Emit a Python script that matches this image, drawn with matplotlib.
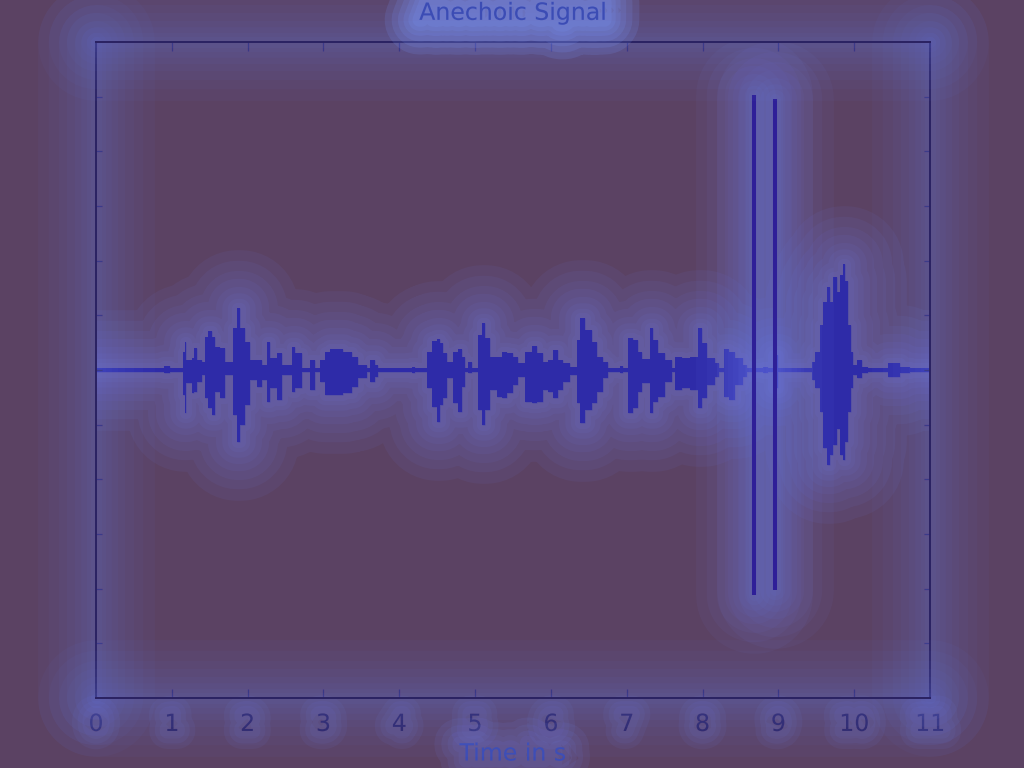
import matplotlib
matplotlib.use('Agg')
import matplotlib.pyplot as plt
import matplotlib.patheffects as pe

# envelope of the anechoic speech signal (step segments)
times = [0.00, 0.90, 0.98, 1.147, 1.174, 1.187, 1.266, 1.293, 1.332, 1.398,
         1.438, 1.477, 1.530, 1.570, 1.635, 1.701, 1.807, 1.860, 1.899, 1.965,
         2.031, 2.123, 2.189, 2.255, 2.295, 2.387, 2.453, 2.585, 2.625, 2.717,
         2.822, 2.888, 2.954, 3.020, 3.086, 3.258, 3.376, 3.456, 3.574, 3.614,
         3.680, 3.719, 4.17, 4.21, 4.366, 4.432, 4.497, 4.537, 4.577, 4.629,
         4.709, 4.775, 4.827, 4.867, 4.906, 4.959, 5.038, 5.091, 5.131, 5.197,
         5.289, 5.355, 5.421, 5.500, 5.566, 5.658, 5.751, 5.816, 5.896, 5.961,
         6.027, 6.093, 6.159, 6.252, 6.344, 6.384, 6.449, 6.542, 6.608, 6.687,
         6.753, 6.911, 6.95, 7.017, 7.083, 7.149, 7.201, 7.307, 7.346, 7.412,
         7.505, 7.597, 7.637, 7.729, 7.834, 7.940, 7.993, 8.059, 8.164, 8.217,
         8.283, 8.349, 8.428, 8.534, 8.586, 8.80, 8.86, 8.93, 8.99, 9.443,
         9.483, 9.549, 9.589, 9.641, 9.681, 9.720, 9.773, 9.813, 9.852, 9.879,
         9.918, 9.958, 9.984, 10.037, 10.103, 10.182, 10.446, 10.604, 10.736, 11.0]
upper = [0.008, 0.015, 0.008, 0.067, 0.104, 0.037, 0.043, 0.079, 0.037, 0.031,
         0.122, 0.143, 0.122, 0.085, 0.079, 0.031, 0.153, 0.226, 0.153, 0.104,
         0.037, 0.037, 0.018, 0.104, 0.043, 0.061, 0.018, 0.085, 0.061, 0.008,
         0.037, 0.008, 0.037, 0.067, 0.077, 0.067, 0.049, 0.018, 0.008, 0.037,
         0.018, 0.008, 0.012, 0.008, 0.067, 0.107, 0.112, 0.098, 0.061, 0.031,
         0.067, 0.076, 0.049, 0.008, 0.031, 0.008, 0.128, 0.171, 0.116, 0.049,
         0.049, 0.067, 0.061, 0.049, 0.024, 0.067, 0.088, 0.061, 0.031, 0.037,
         0.073, 0.037, 0.024, 0.012, 0.110, 0.189, 0.147, 0.104, 0.049, 0.031,
         0.008, 0.014, 0.008, 0.116, 0.110, 0.067, 0.039, 0.153, 0.110, 0.061,
         0.037, 0.008, 0.049, 0.043, 0.049, 0.153, 0.098, 0.043, 0.024, 0.008,
         0.076, 0.067, 0.043, 0.018, 0.008, 0.012, 0.008, 0.055, 0.008, 0.031,
         0.067, 0.165, 0.250, 0.305, 0.250, 0.342, 0.287, 0.348, 0.387, 0.324,
         0.165, 0.067, 0.018, 0.037, 0.012, 0.008, 0.024, 0.012, 0.008, 0.008]
lower = [-0.008, -0.012, -0.008, -0.092, -0.159, -0.049, -0.085, -0.079, -0.043, -0.018,
         -0.104, -0.140, -0.165, -0.079, -0.104, -0.018, -0.165, -0.263, -0.201, -0.128,
         -0.037, -0.061, -0.037, -0.116, -0.067, -0.110, -0.018, -0.079, -0.067, -0.008,
         -0.073, -0.008, -0.043, -0.092, -0.092, -0.085, -0.061, -0.031, -0.008, -0.043,
         -0.024, -0.008, -0.012, -0.008, -0.067, -0.134, -0.189, -0.128, -0.104, -0.031,
         -0.122, -0.153, -0.061, -0.008, -0.012, -0.008, -0.147, -0.201, -0.147, -0.073,
         -0.098, -0.104, -0.085, -0.055, -0.024, -0.116, -0.122, -0.116, -0.073, -0.079,
         -0.104, -0.073, -0.043, -0.018, -0.122, -0.195, -0.147, -0.122, -0.079, -0.031,
         -0.008, -0.012, -0.008, -0.159, -0.140, -0.079, -0.049, -0.159, -0.116, -0.098,
         -0.043, -0.008, -0.073, -0.067, -0.073, -0.140, -0.104, -0.055, -0.024, -0.008,
         -0.098, -0.110, -0.055, -0.024, -0.008, -0.010, -0.008, -0.067, -0.008, -0.037,
         -0.067, -0.153, -0.287, -0.348, -0.311, -0.275, -0.214, -0.311, -0.330, -0.263,
         -0.153, -0.067, -0.018, -0.031, -0.012, -0.008, -0.024, -0.012, -0.008, -0.008]

# two clicks
spike_t = [8.672, 8.955]
spike_hi = [1.007, 0.993]
spike_lo = [-0.824, -0.806]

xticks = [0, 1, 2, 3, 4, 5, 6, 7, 8, 9, 10, 11]
yticks = [-1.0, -0.8, -0.6, -0.4, -0.2, 0.0, 0.2, 0.4, 0.6, 0.8, 1.0]

BG = '#5b4263'
GLOW = '#7282f2'
INK = '#2a2262'
WAVE = '#2e2ba8'
TEXT = '#3c4cb4'

plt.rcParams['font.family'] = ['Liberation Sans Narrow', 'DejaVu Sans']


def glow(widths, alpha, color=GLOW):
    fx = [pe.Stroke(linewidth=w, foreground=color, alpha=alpha,
                    capstyle='round', joinstyle='round') for w in widths]
    return fx + [pe.Normal()]


fig = plt.figure(figsize=(10.24, 7.68), dpi=100, facecolor=BG)
ax = fig.add_axes([0.09375, 0.0911, 0.8145, 0.8542])
ax.set_facecolor(BG)

big = [84, 68, 54, 42, 31, 22, 14, 8]

wave = ax.fill_between(times, lower, upper, step='post', color=WAVE, lw=0)
wave.set_path_effects(glow(big, 0.07))

clicks = ax.vlines(spike_t, spike_lo, spike_hi, color='#2e1f98', lw=2.9)
clicks.set_path_effects(glow(big, 0.055))

ax.set_xlim(0, 11)
ax.set_ylim(-1.2, 1.2)
ax.set_xticks(xticks)
ax.set_yticks(yticks)
ax.tick_params(labelleft=False)
ax.tick_params(axis='x', direction='in', length=6.5, width=1, top=True,
               color=INK, labelcolor=INK, labelsize=17, pad=10)
ax.tick_params(axis='y', direction='in', length=4.5, width=1, right=True,
               color=INK)

for sp in ax.spines.values():
    sp.set_color(INK)
    sp.set_linewidth(1.4)
    sp.set_path_effects(glow(big, 0.045))

for lab in ax.get_xticklabels():
    lab.set_path_effects(glow([26, 18, 11], 0.07))

ax.set_title('Anechoic Signal', color=TEXT, fontsize=17, pad=16,
             path_effects=glow([50, 40, 31, 23, 16, 10], 0.15, '#7a98ff'))
ax.set_xlabel('Time in s', color=TEXT, fontsize=17, labelpad=4,
              path_effects=glow([36, 26, 17, 10], 0.09))

fig.savefig('out.png', dpi=100, facecolor=BG)
